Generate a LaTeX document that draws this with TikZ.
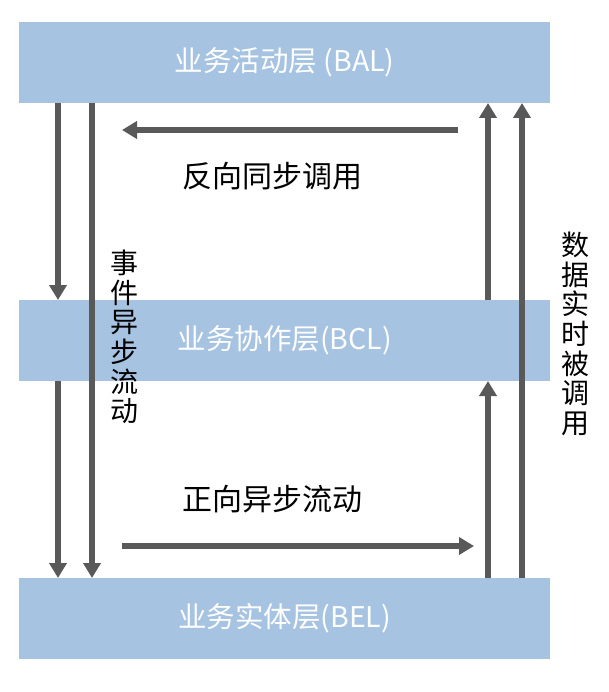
\documentclass[tikz,border=0pt]{standalone}
\usepackage{fontspec}
\setmainfont{Noto Sans CJK SC}
\usetikzlibrary{arrows.meta}
\definecolor{boxblue}{RGB}{166,195,226}
\definecolor{arrowgray}{RGB}{89,89,89}
\begin{document}
\begin{tikzpicture}[x=1pt,y=-1pt,
  layer/.style={fill=boxblue,draw=none,minimum width=531pt,minimum height=81pt,inner sep=0pt,anchor=north west,text=white,font=\fontsize{28.5}{32}\selectfont},
  flow/.style={draw=arrowgray,line width=6pt,-{Triangle[width=17pt,length=15pt]}},
  lab/.style={font=\fontsize{30}{34}\selectfont,text=black,inner sep=0pt},
  vlab/.style={font=\fontsize{28}{29.7}\selectfont,text=black,align=center,inner sep=0pt}]
\useasboundingbox (0,0) rectangle (608,692);
\node[layer] (bal) at (19,22) {业务活动层 (BAL)};
\node[layer] (bcl) at (19,300) {业务协作层(BCL)};
\node[layer] (bel) at (19,578) {业务实体层(BEL)};
% named coordinates for connector ends
\coordinate (a1) at (58,103); \coordinate (a2) at (58,300);
\coordinate (b1) at (58,381); \coordinate (b2) at (58,578);
\coordinate (c1) at (92,103); \coordinate (c2) at (92,578);
\coordinate (d1) at (488,300); \coordinate (d2) at (488,103);
\coordinate (e1) at (488,578); \coordinate (e2) at (488,381);
\coordinate (f1) at (522,578); \coordinate (f2) at (522,103);
\coordinate (g1) at (458,130); \coordinate (g2) at (122,130);
\coordinate (h1) at (122,546); \coordinate (h2) at (474,546);
\draw[flow] (a1) -- (a2);
\draw[flow] (b1) -- (b2);
\draw[flow] (c1) -- (c2);
\draw[flow] (d1) -- (d2);
\draw[flow] (e1) -- (e2);
\draw[flow] (f1) -- (f2);
\draw[flow] (g1) -- (g2);
\draw[flow] (h1) -- (h2);
\node[lab] (l1) at (272,176) {反向同步调用};
\node[lab] (l2) at (272,499) {正向异步流动};
\node[vlab] (l3) at (124,337) {事\\件\\异\\步\\流\\动};
\node[vlab] (l4) at (575,334) {数\\据\\实\\时\\被\\调\\用};
\end{tikzpicture}
\end{document}
